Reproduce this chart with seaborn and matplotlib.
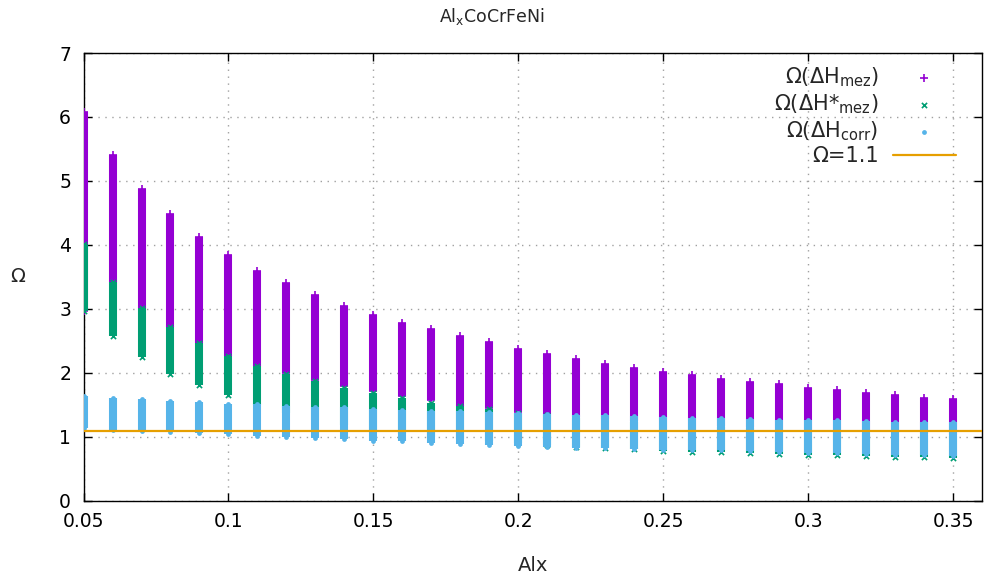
import matplotlib
matplotlib.use('Agg')
import matplotlib.pyplot as plt
import pandas as pd
import seaborn as sns

# Al content
alx = [0.05, 0.06, 0.07, 0.08, 0.09, 0.10, 0.11, 0.12, 0.13, 0.14, 0.15,
       0.16, 0.17, 0.18, 0.19, 0.20, 0.21, 0.22, 0.23, 0.24, 0.25,
       0.26, 0.27, 0.28, 0.29, 0.30, 0.31, 0.32, 0.33, 0.34, 0.35]

# Omega ranges (lower / upper end of each column)
mez_hi = [6.08, 5.40, 4.88, 4.48, 4.13, 3.85, 3.60, 3.41, 3.22, 3.04, 2.91,
          2.78, 2.68, 2.57, 2.48, 2.37, 2.29, 2.21, 2.14, 2.08, 2.02,
          1.96, 1.91, 1.86, 1.82, 1.76, 1.73, 1.69, 1.66, 1.61, 1.59]
mez_lo = [2.97, 3.42, 3.01, 2.71, 2.46, 2.26, 2.11, 2.00, 1.89, 1.79, 1.71,
          1.64, 1.57, 1.49, 1.45, 1.39, 1.34, 1.31, 1.28, 1.25, 1.22,
          1.19, 1.17, 1.15, 1.13, 1.11, 1.09, 1.07, 1.06, 1.04, 1.03]

mezs_hi = [4.01, 3.42, 3.01, 2.71, 2.46, 2.26, 2.11, 1.98, 1.87, 1.77, 1.69,
           1.61, 1.53, 1.48, 1.44, 1.38, 1.34, 1.30, 1.27, 1.24, 1.21,
           1.18, 1.16, 1.14, 1.12, 1.10, 1.08, 1.06, 1.05, 1.03, 1.02]
mezs_lo = [2.97, 2.57, 2.25, 1.99, 1.81, 1.65, 1.50, 1.38, 1.27, 1.18, 1.11,
           1.05, 1.00, 0.96, 0.93, 0.90, 0.87, 0.85, 0.83, 0.81, 0.78,
           0.77, 0.76, 0.75, 0.73, 0.72, 0.71, 0.70, 0.69, 0.68, 0.67]

corr_hi = [1.64, 1.61, 1.59, 1.56, 1.54, 1.52, 1.51, 1.49, 1.47, 1.46, 1.44,
           1.42, 1.41, 1.40, 1.39, 1.37, 1.36, 1.35, 1.34, 1.33, 1.31,
           1.30, 1.29, 1.28, 1.27, 1.26, 1.26, 1.25, 1.24, 1.23, 1.23]
corr_lo = [1.14, 1.11, 1.10, 1.08, 1.06, 1.05, 1.01, 1.00, 0.98, 0.96, 0.94,
           0.93, 0.90, 0.89, 0.87, 0.86, 0.85, 0.83, 0.82, 0.81, 0.80,
           0.80, 0.79, 0.78, 0.76, 0.75, 0.75, 0.73, 0.72, 0.72, 0.70]

omega_crit = 1.1

sns.set_style('ticks')
plt.rcParams['font.family'] = ['DejaVu Sans']
plt.rcParams['mathtext.fontset'] = 'dejavusans'

fig = plt.figure(figsize=(9.84, 5.87), dpi=100)
ax = fig.add_axes([0.0849, 0.1467, 0.9131, 0.7630])

series = [
    (r'Ω(ΔH$_{\mathrm{mez}}$)', mez_lo, mez_hi, '#9400d3', '+', 28, 1.2),
    (r'Ω(ΔH*$_{\mathrm{mez}}$)', mezs_lo, mezs_hi, '#009e73', 'x', 14, 1.2),
    (r'Ω(ΔH$_{\mathrm{corr}}$)', corr_lo, corr_hi, '#56b4e9', 'o', 12, 0),
]

z = 3
for label, lo, hi, col, mk, size, lw in series:
    ax.vlines(alx, lo, hi, colors=col, lw=5.8, zorder=z)
    df = pd.DataFrame({'Alx': alx + alx, 'Omega': lo + hi})
    sns.scatterplot(data=df, x='Alx', y='Omega', marker=mk, color=col,
                    s=size, linewidth=lw, label=label, ax=ax, zorder=z)
    z += 1

ax.axhline(omega_crit, color='#e69f00', lw=1.6, label='Ω=1.1', zorder=10)

ax.set_xlim(0.05, 0.36)
ax.set_ylim(0, 7)
ax.set_xticks([0.05, 0.1, 0.15, 0.2, 0.25, 0.3, 0.35])
ax.set_xticklabels(['0.05', '0.1', '0.15', '0.2', '0.25', '0.3', '0.35'])
ax.set_yticks(range(0, 8))
ax.grid(True, ls=(0, (1, 4)), color='#a0a0a0', lw=1)
ax.tick_params(direction='in', top=True, right=True, length=6, width=1,
               labelsize=13.5, colors='black')
ax.tick_params(axis='x', pad=8)
ax.tick_params(axis='y', pad=9)
for s in ax.spines.values():
    s.set_color('black')
    s.set_linewidth(1)

ax.set_xlabel('Alx', fontsize=14, labelpad=18)
ax.set_ylabel('Ω', fontsize=14, rotation=0, labelpad=30, va='center')
fig.text(0.5, 0.972, r'Al$_{\mathrm{x}}$CoCrFeNi', ha='center', va='center',
         fontsize=12.5)

ax.legend(loc='upper right', bbox_to_anchor=(0.98, 0.99), frameon=False,
          markerfirst=False, fontsize=15, handlelength=3.0, handletextpad=0.7,
          labelspacing=0.15, borderaxespad=0, markerscale=1.0)

fig.savefig('out.png', dpi=100)
